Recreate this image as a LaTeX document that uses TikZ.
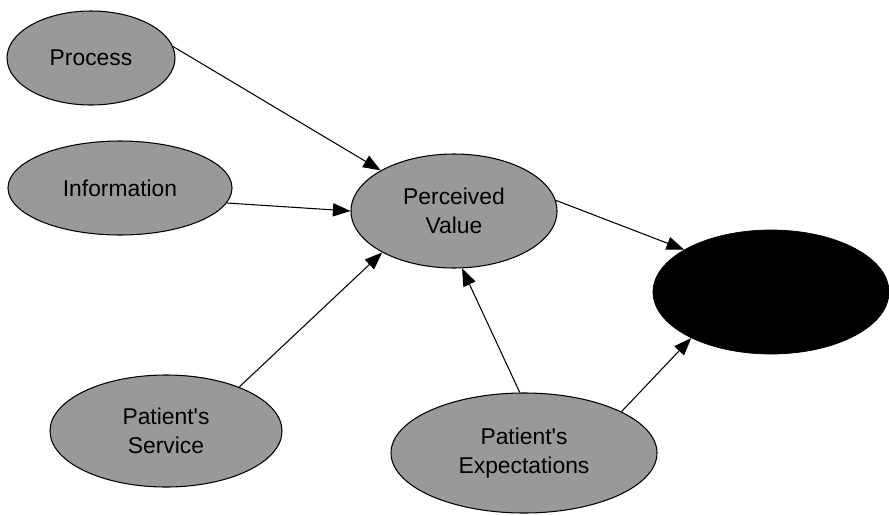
\documentclass[tikz,border=0pt]{standalone}
\usepackage{fontspec}
\setmainfont{Liberation Sans}
\usetikzlibrary{arrows.meta}
\usetikzlibrary{shapes.geometric,positioning}

\begin{document}
\begin{tikzpicture}[
    factor/.style={ellipse, draw=black, line width=0.6pt, fill=black!40, inner sep=0pt,
    align=center, text=black, font=\fontsize{13}{16.5}\selectfont},
    outcome/.style={ellipse, draw=black, fill=black, inner sep=0pt},
    link/.style={-{Triangle[length=10pt,width=7.5pt]}, line width=0.6pt},]
    \useasboundingbox (0,0) rectangle (17.78,-10.30);

    \node (process) [factor, minimum width=3.36cm, minimum height=1.88cm] at (1.82,-1.16) {Process};
    \node (information) [factor, minimum width=4.48cm, minimum height=1.88cm] at (2.40,-3.76) {Information};
    \node (value) [factor, minimum width=4.12cm, minimum height=2.28cm] at (9.08,-4.22) {Perceived\\Value};
    \node (result) [outcome, minimum width=4.72cm, minimum height=2.48cm] at (15.42,-5.84) {};
    \node (service) [factor, minimum width=4.64cm, minimum height=2.24cm] at (3.32,-8.62) {Patient\textquotesingle s\\Service};
    \node (expect) [factor, minimum width=5.32cm, minimum height=2.40cm] at (10.48,-9.06) {Patient\textquotesingle s\\Expectations};

    \draw [link] (process.8) -- (value.151);
    \draw [link] (information.-8) -- (value.180);
    \draw [link] (service.31) -- (value.210);
    \draw [link] (expect.94) -- (value.278);
    \draw [link] (value.6) -- (result.154);
    \draw [link] (expect.23) -- (result.210);
\end{tikzpicture}
\end{document}
